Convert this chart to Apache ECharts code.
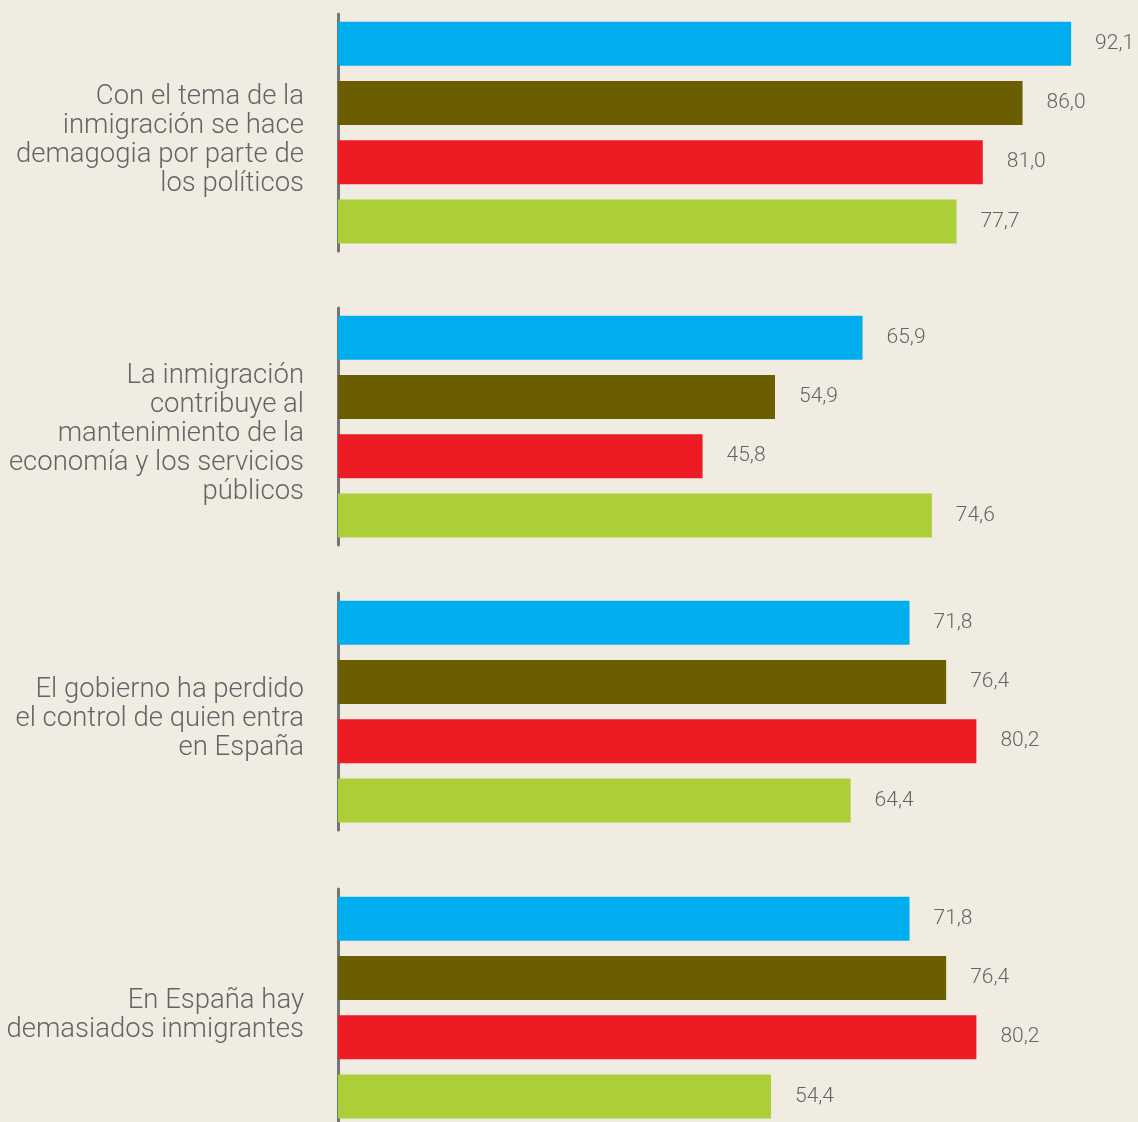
<!DOCTYPE html>
<html>
<head>
<meta charset="utf-8">
<script src="https://cdn.jsdelivr.net/npm/echarts@6/dist/echarts.min.js"></script>
<style>
  html, body { margin: 0; padding: 0; background: #f0ece1; }
  #main { width: 1138px; height: 1122px; }
</style>
</head>
<body>
<div id="main"></div>
<script>
var questions = [
  'Con el tema de la\ninmigración se hace\ndemagogia por parte de\nlos políticos',
  'La inmigración\ncontribuye al\nmantenimiento de la\neconomía y los servicios\npúblicos',
  'El gobierno ha perdido\nel control de quien entra\nen España',
  'En España hay\ndemasiados inmigrantes'
];
var barKeys = ['1', '2', '3', '4'];
var blueValues = [92.1, 65.9, 71.8, 71.8];
var oliveValues = [86.0, 54.9, 76.4, 76.4];
var redValues = [81.0, 45.8, 80.2, 80.2];
var greenValues = [77.7, 74.6, 64.4, 54.4];
var colors = ['#00aeef', '#6b5e00', '#ed1c24', '#acce37'];

var chartDom = document.getElementById('main');
var myChart = echarts.init(chartDom);
var option;

var gridTops = [14, 308, 593, 889];
var grids = [], xAxes = [], yAxes = [], series = [];

questions.forEach(function (q, i) {
  grids.push({
    left: 338, width: 796, top: gridTops[i], height: 237,
    outerBoundsMode: 'none'
  });
  xAxes.push({
    gridIndex: i, type: 'value', min: 0, max: 100,
    show: false
  });
  yAxes.push({
    gridIndex: i, type: 'category', inverse: true, data: barKeys,
    axisLine: { show: true, lineStyle: { color: '#757575', width: 3 } },
    axisTick: { show: false },
    axisLabel: { show: false },
    // empty first line pushes the text block a bit lower
    name: '{s|}\n' + q,
    nameLocation: 'middle',
    nameRotate: 0,
    nameGap: 34,
    nameTextStyle: {
      fontFamily: 'Roboto',
      fontWeight: 300,
      fontSize: 27.5,
      lineHeight: 29,
      color: '#636467',
      align: 'right',
      verticalAlign: 'middle',
      rich: { s: { lineHeight: 16, fontSize: 10 } }
    }
  });
  var vals = [blueValues[i], oliveValues[i], redValues[i], greenValues[i]];
  series.push({
    type: 'bar',
    xAxisIndex: i,
    yAxisIndex: i,
    barWidth: 44,
    silent: true,
    data: vals.map(function (v, k) {
      return { value: v, itemStyle: { color: colors[k] } };
    }),
    label: {
      show: true,
      position: 'right',
      distance: 24,
      fontFamily: 'Roboto',
      fontWeight: 300,
      fontSize: 21,
      color: '#636467',
      formatter: function (p) { return p.value.toFixed(1).replace('.', ','); }
    }
  });
});

option = {
  backgroundColor: '#f0ece1',
  animation: false,
  grid: grids,
  xAxis: xAxes,
  yAxis: yAxes,
  series: series
};

option && myChart.setOption(option);
</script>
</body>
</html>
